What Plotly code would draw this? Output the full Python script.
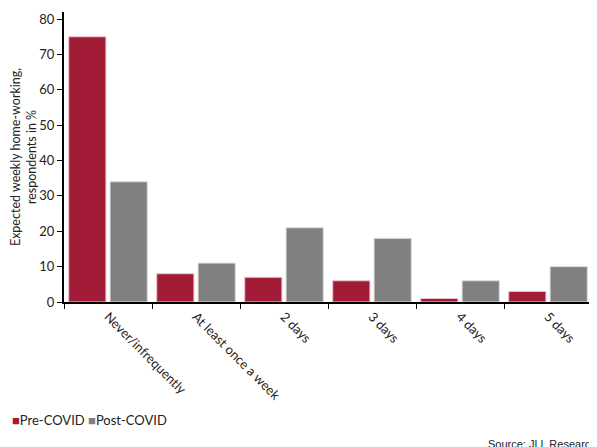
import plotly.graph_objects as go

categories = ["Never/infrequently", "At least once a week", "2 days", "3 days", "4 days", "5 days"]
pre_covid = [75, 8, 7, 6, 1, 3]
post_covid = [34, 11, 21, 18, 6, 10]
series_names = ["Pre-COVID", "Post-COVID"]
series_colors = ["#A31C37", "#808080"]

FONT = "Lato, 'Open Sans', sans-serif"

fig = go.Figure()
fig.add_trace(go.Bar(x=categories, y=pre_covid, name=series_names[0],
                     marker=dict(color=series_colors[0], line=dict(color="#e8c9cf", width=1))))
fig.add_trace(go.Bar(x=categories, y=post_covid, name=series_names[1],
                     marker=dict(color=series_colors[1], line=dict(color="#dddddd", width=1))))

legend_text = " ".join(
    f"<span style='color:{c}'>■</span>{n}" for n, c in zip(series_names, series_colors)
)

PW, PH = 528, 290
fig.update_layout(
    width=597, height=447,
    margin=dict(l=56, r=13, t=4, b=153),
    paper_bgcolor="white", plot_bgcolor="white",
    font=dict(family=FONT, size=13, color="#222"),
    barmode="group", bargap=0.06, bargroupgap=0.1,
    showlegend=False,
    xaxis=dict(showline=True, linecolor="black", linewidth=2, ticks="outside",
               tickson="boundaries", ticklen=5, tickcolor="black", tickangle=45,
               tickfont=dict(size=13), showgrid=False, automargin=False),
    yaxis=dict(range=[0, 82], showline=True, linecolor="black", linewidth=2,
               ticks="outside", ticklen=5, tickcolor="black", dtick=10,
               showgrid=False, zeroline=False, tickfont=dict(size=13), automargin=False,
               title=dict(text="Expected weekly home-working,<br>respondents in %",
                          font=dict(size=12.5), standoff=10)),
    annotations=[
        dict(text=legend_text, xref="paper", yref="paper",
             x=-54/PW, y=-118/PH, xanchor="left", yanchor="middle",
             showarrow=False, font=dict(size=13)),
        dict(text="Source: JLL Research", xref="paper", yref="paper",
             x=(590-56)/PW, y=-134/PH, xanchor="right", yanchor="top",
             showarrow=False, font=dict(size=11, family="Liberation Sans, Arial, sans-serif")),
    ],
)

fig.write_html("out.html")
